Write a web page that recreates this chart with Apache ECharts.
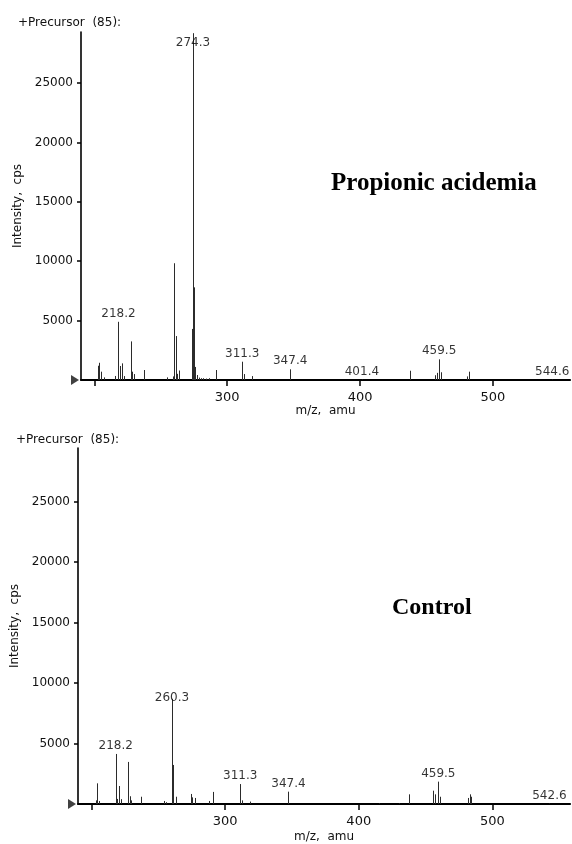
<!DOCTYPE html>
<html><head><meta charset="utf-8">
<script src="https://cdn.jsdelivr.net/npm/echarts@6/dist/echarts.min.js"></script>
<style>html,body{margin:0;padding:0;background:#fff}#c{width:572px;height:844px}</style>
</head><body><div id="c"></div>
<script>
// ---- chart data ----
const headerText = '+Precursor  (85):';
const panelTitles = ['Propionic acidemia', 'Control'];
const xAxisName = 'm/z,  amu';
const yAxisName = 'Intensity,  cps';
const xTickValues = [200, 300, 400, 500];
const xLabelValues = [300, 400, 500];
const yTickValues = [5000, 10000, 15000, 20000, 25000];

// Propionic acidemia spectrum
const mzTop = [202.6, 203.8, 204.8, 207.5, 215.6, 218.2, 219.6, 221.1, 222.6, 227.6, 228.6, 229.6,
  237.6, 254.5, 259.5, 260.3, 261.3, 262.3, 263.5, 273.6, 274.3, 275.3, 276.0, 277.0, 278.5,
  280.0, 282.0, 284.0, 286.0, 291.6, 311.3, 312.3, 318.9, 347.4, 401.4, 437.6, 456.4, 457.6,
  459.5, 460.7, 480.7, 482.2, 544.6];
const intensityTop = [1200, 1450, 700, 220, 340, 4900, 1180, 1400, 330, 3250, 700, 500,
  840, 220, 300, 9830, 3700, 520, 800, 4300, 29200, 7800, 1100, 420, 200,
  150, 150, 120, 150, 840, 1540, 500, 330, 900, 40, 780, 400, 600,
  1740, 650, 300, 700, 40];
const labeledTop = [218.2, 274.3, 311.3, 347.4, 401.4, 459.5, 544.6];

// Control spectrum
const mzControl = [203.5, 204.4, 205.7, 218.2, 219.4, 220.9, 221.9, 227.4, 228.6, 229.6,
  237.1, 254.3, 255.6, 260.3, 261.3, 263.1, 274.3, 275.5, 277.5, 288.0, 291.2, 311.3, 312.5,
  318.3, 347.4, 415.0, 430.0, 437.7, 455.9, 457.2, 459.5, 460.4, 481.7, 482.9, 484.2, 542.6];
const intensityControl = [300, 1710, 250, 4140, 420, 1490, 400, 3480, 640, 300,
  600, 250, 150, 8700, 3230, 600, 830, 550, 500, 250, 1000, 1650, 300,
  200, 1020, 60, 60, 800, 1100, 800, 1850, 600, 500, 800, 600, 40];
const labeledControl = [218.2, 260.3, 311.3, 347.4, 459.5, 542.6];

const xMin = 190, xMax = 558;
const yMaxTop = 29300, yMaxControl = 29450;

// ---- build ----
const FONT = 'DejaVu Sans';
function pairs(mz, inten) { return mz.map((m, i) => [m, inten[i]]); }
function labelItems(list, mz, inten, special) {
  return list.map(m => {
    const i = mz.indexOf(m);
    const item = { value: [m, inten[i]] };
    if (special && special[m]) item.label = { offset: special[m] };
    return item;
  });
}
function renderStick(params, api) {
  const x = api.value(0), y = api.value(1);
  const p0 = api.coord([x, 0]);
  const p1 = api.coord([x, y]);
  const px = Math.round(p0[0]) + 0.5;
  return { type: 'line', shape: { x1: px, y1: p0[1], x2: px, y2: p1[1] },
    style: { stroke: '#2b2b2b', lineWidth: 1 } };
}
function xAxisCfg(gi, nameGap, labelMargin) {
  return {
    type: 'value', gridIndex: gi, min: xMin, max: xMax,
    splitLine: { show: false },
    axisLine: { show: true, onZero: false, lineStyle: { color: '#000', width: 2.2 } },
    axisTick: { show: true, length: 6, lineStyle: { color: '#000', width: 1.5 }, customValues: xTickValues },
    axisLabel: { margin: labelMargin, color: '#111', fontFamily: FONT, fontSize: 13, customValues: xLabelValues,
      formatter: v => String(v) },
    name: xAxisName, nameLocation: 'middle', nameGap: nameGap,
    nameTextStyle: { color: '#111', fontFamily: FONT, fontSize: 12, verticalAlign: 'top' }
  };
}
function yAxisCfg(gi, max) {
  return {
    type: 'value', gridIndex: gi, min: 0, max: max,
    splitLine: { show: false },
    axisLine: { show: true, lineStyle: { color: '#000', width: 1.6 } },
    axisTick: { show: true, length: 4, lineStyle: { color: '#000', width: 1.5 }, customValues: yTickValues },
    axisLabel: { margin: 8, color: '#111', fontFamily: FONT, fontSize: 12, customValues: yTickValues,
      formatter: v => String(v) },
    name: yAxisName, nameLocation: 'middle', nameGap: 56,
    nameTextStyle: { color: '#111', fontFamily: FONT, fontSize: 12 }
  };
}
function labelSeries(gi, data) {
  return {
    type: 'scatter', xAxisIndex: gi, yAxisIndex: gi, symbolSize: 0, silent: true, clip: false,
    data: data, z: 5,
    label: { show: true, position: 'top', distance: 2, color: '#000', fontFamily: FONT, fontSize: 12,
      formatter: p => p.value[0].toFixed(1) }
  };
}
function markerSeries(gi) {
  return {
    type: 'scatter', xAxisIndex: gi, yAxisIndex: gi, clip: false, silent: true, z: 6,
    symbol: 'triangle', symbolSize: [10, 8], symbolRotate: -90, symbolOffset: [-6, 0],
    itemStyle: { color: '#111' }, data: [[xMin, 0]]
  };
}

const option = {
  backgroundColor: '#fff',
  animation: false,
  title: [
    { text: headerText, left: 13, top: 12, textStyle: { fontFamily: FONT, fontSize: 12, fontWeight: 'normal', color: '#111' } },
    { text: headerText, left: 11, top: 429, textStyle: { fontFamily: FONT, fontSize: 12, fontWeight: 'normal', color: '#111' } },
    { text: panelTitles[0], left: 326, top: 166, textStyle: { fontFamily: 'Liberation Serif', fontSize: 25, fontWeight: 'bold', color: '#000' } },
    { text: panelTitles[1], left: 387, top: 591, textStyle: { fontFamily: 'Liberation Serif', fontSize: 24, fontWeight: 'bold', color: '#000' } }
  ],
  grid: [
    { left: 81, top: 32, width: 489, height: 348 },
    { left: 78, top: 448, width: 492, height: 356 }
  ],
  xAxis: [xAxisCfg(0, 23, 11), xAxisCfg(1, 27, 11)],
  yAxis: [yAxisCfg(0, yMaxTop), yAxisCfg(1, yMaxControl)],
  series: [
    { type: 'custom', xAxisIndex: 0, yAxisIndex: 0, clip: true, silent: true,
      renderItem: renderStick, encode: { x: 0, y: 1 }, data: pairs(mzTop, intensityTop) },
    { type: 'custom', xAxisIndex: 1, yAxisIndex: 1, clip: true, silent: true,
      renderItem: renderStick, encode: { x: 0, y: 1 }, data: pairs(mzControl, intensityControl) },
    labelSeries(0, labelItems(labeledTop, mzTop, intensityTop, { 274.3: [0, 18] })),
    labelSeries(1, labelItems(labeledControl, mzControl, intensityControl, { 260.3: [0, 7] })),
    markerSeries(0),
    markerSeries(1)
  ]
};
const chart = echarts.init(document.getElementById('c'), null, { renderer: 'canvas' });
chart.setOption(option);
</script>
</body></html>
